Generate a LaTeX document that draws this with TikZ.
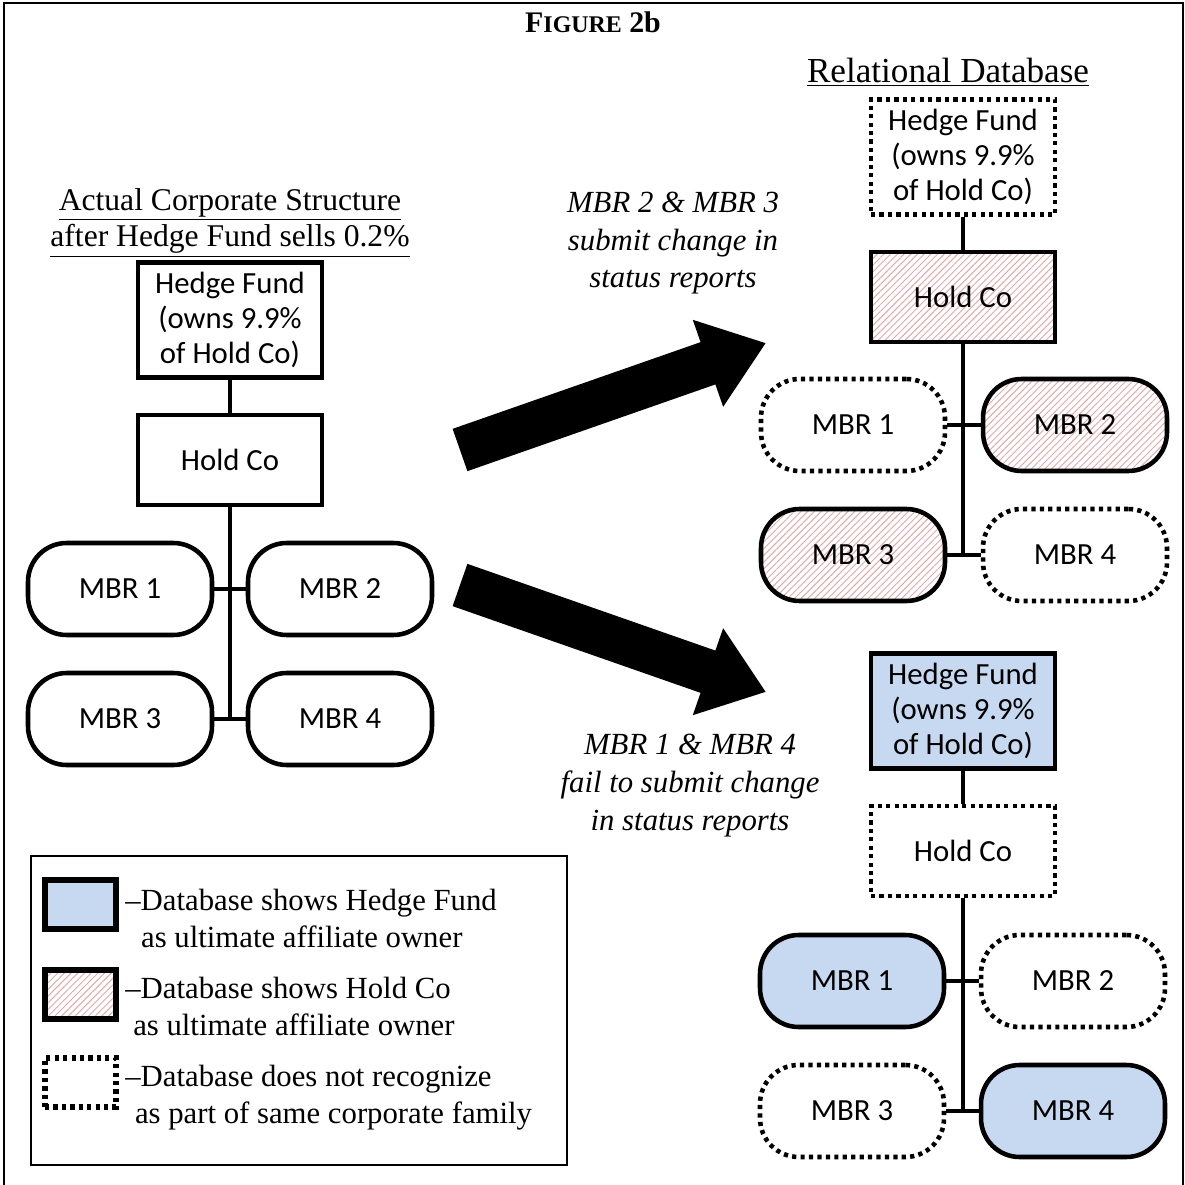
\documentclass[tikz,border=0pt]{standalone}
\usepackage{fontspec}
\setmainfont{Liberation Serif}
\newfontfamily\boxfont{Carlito}
\usetikzlibrary{arrows.meta,patterns.meta}
\definecolor{fundblue}{RGB}{198,217,241}
\definecolor{hatchpink}{RGB}{228,168,168}

\begin{document}
\begin{tikzpicture}[
    x=0.02cm, y=-0.02cm,
    box/.style={draw, rectangle, line width=2.6pt, minimum width=3.68cm, inner sep=0pt, align=center, font=\boxfont\fontsize{17.5}{20}\selectfont},
    fundbox/.style={box, minimum height=2.3cm},
    holdbox/.style={box, minimum height=1.8cm},
    mbrbox/.style={box, rounded corners=22pt, minimum height=1.84cm},
    dotline/.style={dash pattern=on 2.4pt off 2.4pt},
    hatched/.style={pattern={Lines[angle=45, distance=2.7pt, line width=0.55pt]}, pattern color=hatchpink},
    shaded/.style={fill=fundblue},
    link/.style={draw, line width=2.8pt},
    bigarrow/.style={line width=25.5pt, -{Triangle[width=50pt, length=35pt]}},
    caption/.style={align=center, inner sep=0pt, font=\fontsize{18}{21}\selectfont},
    note/.style={align=center, inner sep=0pt, font=\itshape\fontsize{17.5}{21.5}\selectfont},
    swatch/.style={draw, rectangle, line width=3.4pt, minimum width=1.42cm, minimum height=0.98cm, inner sep=0pt},
    keytext/.style={anchor=base west, align=left, inner sep=0pt, font=\fontsize{17.5}{21}\selectfont}
]
    \useasboundingbox (0,0) rectangle (1185,1185);
    \draw[line width=1.1pt] (4,1185) -- (4,3) -- (1183,3) -- (1183,1185);

    % Headings (multi-line nodes sit on the baseline of their last line)
    \node[anchor=base, inner sep=0pt, font=\bfseries\fontsize{17}{19}\selectfont] (title) at (593,33) {F{\fontsize{13.6}{19}\selectfont IGURE} 2b};
    \node[caption, anchor=base, font=\fontsize{20}{21}\selectfont] (dbhead) at (948,83) {\underline{Relational Database}};
    \node[caption, anchor=base] (acthead) at (230,247) {\underline{Actual Corporate Structure}\\\underline{after Hedge Fund sells 0.2\%}};

    % Left: actual structure
    \node[fundbox] (lfund) at (230,320) {Hedge Fund\\(owns 9.9\%\\of Hold Co)};
    \node[holdbox] (lhold) at (230,460) {Hold Co};
    \node[mbrbox] (lm1) at (120,589) {MBR 1};
    \node[mbrbox] (lm2) at (340,589) {MBR 2};
    \node[mbrbox] (lm3) at (120,719) {MBR 3};
    \node[mbrbox] (lm4) at (340,719) {MBR 4};

    \draw[link] (lfund) -- (lhold);
    \draw[link] (lhold) -- (lhold |- lm3);
    \draw[link] (lm1) -- (lm2);
    \draw[link] (lm3) -- (lm4);

    % Top right: database after reports
    \node[fundbox, dotline] (tfund) at (963,157) {Hedge Fund\\(owns 9.9\%\\of Hold Co)};
    \node[holdbox, hatched] (thold) at (963,297) {Hold Co};
    \node[mbrbox, dotline] (tm1) at (853,425) {MBR 1};
    \node[mbrbox, hatched] (tm2) at (1075,425) {MBR 2};
    \node[mbrbox, hatched] (tm3) at (853,555) {MBR 3};
    \node[mbrbox, dotline] (tm4) at (1075,555) {MBR 4};

    \draw[link] (tfund) -- (thold);
    \draw[link] (thold) -- (thold |- tm3);
    \draw[link] (tm1) -- (tm2);
    \draw[link] (tm3) -- (tm4);

    % Bottom right: database without reports
    \node[fundbox, shaded] (bfund) at (963,711) {Hedge Fund\\(owns 9.9\%\\of Hold Co)};
    \node[holdbox, dotline] (bhold) at (963,851) {Hold Co};
    \node[mbrbox, shaded] (bm1) at (852,981) {MBR 1};
    \node[mbrbox, dotline] (bm2) at (1073,981) {MBR 2};
    \node[mbrbox, dotline] (bm3) at (852,1111) {MBR 3};
    \node[mbrbox, shaded] (bm4) at (1073,1111) {MBR 4};

    \draw[link] (bfund) -- (bhold);
    \draw[link] (bhold) -- (bhold |- bm3);
    \draw[link] (bm1) -- (bm2);
    \draw[link] (bm3) -- (bm4);

    % Big arrows and their notes
    \coordinate (uptail) at (460,450);
    \coordinate (uptip) at (766,343);
    \coordinate (dntail) at (460,585);
    \coordinate (dntip) at (766,692);
    \draw[bigarrow] (uptail) -- (uptip);
    \draw[bigarrow] (dntail) -- (dntip);

    \node[note, anchor=base] (upnote) at (673,288) {MBR 2 \& MBR 3\\submit change in\\status reports};
    \node[note, anchor=base] (dnnote) at (690,830) {MBR 1 \& MBR 4\\fail to submit change\\in status reports};

    % Legend
    \node[draw, line width=1.1pt, minimum width=10.72cm, minimum height=6.18cm, inner sep=0pt] (legend) at (299,1010.5) {};
    \node[swatch, shaded] (keyfund) at (80.5,904.5) {};
    \node[swatch, hatched] (keyhold) at (80.5,994.5) {};
    \node[swatch, dotline] (keynone) at (80.5,1082.5) {};
    \node[keytext] (keyfundtext) at (125,947) {\textendash Database shows Hedge Fund\\\hspace*{9pt}as ultimate affiliate owner};
    \node[keytext] (keyholdtext) at (125,1035) {\textendash Database shows Hold Co\\\hspace*{4.5pt}as ultimate affiliate owner};
    \node[keytext] (keynonetext) at (125,1123) {\textendash Database does not recognize\\\hspace*{5.5pt}as part of same corporate family};

\end{tikzpicture}
\end{document}
